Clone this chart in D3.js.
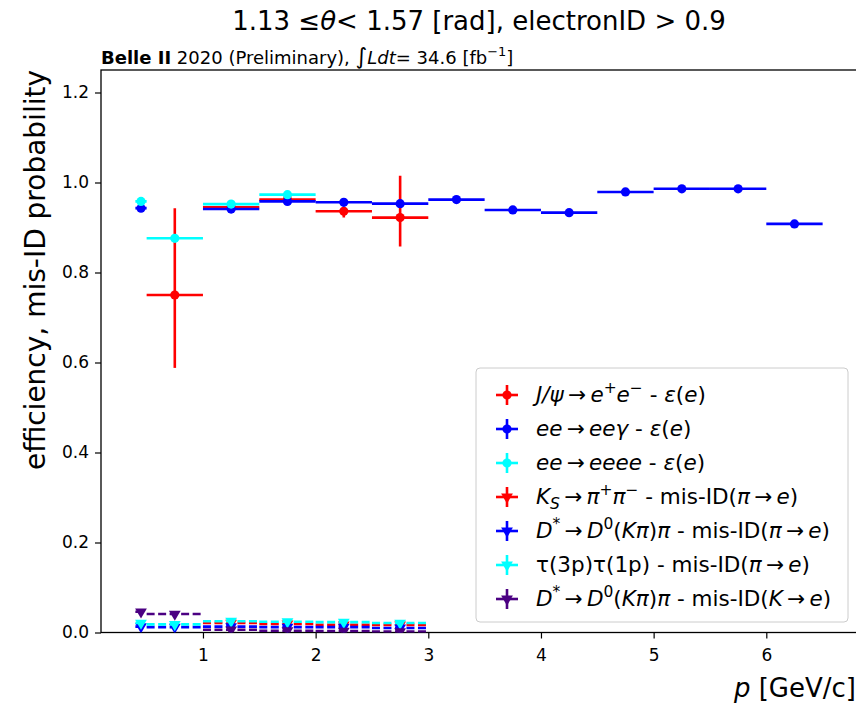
<!DOCTYPE html>
<html><head><meta charset="utf-8">
<script src="https://cdn.jsdelivr.net/npm/d3@7"></script>
<style>body{margin:0;background:#fff}svg text{font-family:"DejaVu Sans",sans-serif}</style>
</head><body>
<svg id="c" width="856" height="706"></svg>
<script>
// ---------------- data ----------------
const jpsiX    = [0.75, 1.25, 1.75, 2.25, 2.75];
const jpsiXerr = [0.25, 0.25, 0.25, 0.25, 0.25];
const jpsiY    = [0.750, 0.945, 0.962, 0.936, 0.922];
const jpsiLo   = [0.162, 0.010, 0.007, 0.014, 0.064];
const jpsiHi   = [0.193, 0.009, 0.007, 0.010, 0.093];

const eegX    = [0.45, 1.25, 1.75, 2.25, 2.75, 3.25, 3.75, 4.25, 4.75, 5.25, 5.75, 6.25];
const eegXerr = [0.05, 0.25, 0.25, 0.25, 0.25, 0.25, 0.25, 0.25, 0.25, 0.25, 0.25, 0.25];
const eegY    = [0.943, 0.941, 0.958, 0.956, 0.953, 0.962, 0.939, 0.933, 0.979, 0.986, 0.986, 0.908];
const eegErr  = [0.004, 0.003, 0.002, 0.002, 0.002, 0.002, 0.002, 0.002, 0.002, 0.002, 0.002, 0.003];

const eeeeX    = [0.45, 0.75, 1.25, 1.75];
const eeeeXerr = [0.05, 0.25, 0.25, 0.25];
const eeeeY    = [0.958, 0.876, 0.952, 0.973];
const eeeeErr  = [0.005, 0.006, 0.004, 0.004];

const ksX    = [1.25, 1.75, 2.25, 2.75];
const ksXerr = [0.25, 0.25, 0.25, 0.25];
const ksY    = [0.021, 0.019, 0.017, 0.017];
const ksErr  = [0.002, 0.002, 0.002, 0.003];

const dpiX    = [0.45, 0.75, 1.25, 1.75, 2.25, 2.75];
const dpiXerr = [0.05, 0.25, 0.25, 0.25, 0.25, 0.25];
const dpiY    = [0.013, 0.012, 0.013, 0.012, 0.012, 0.010];
const dpiErr  = [0.002, 0.002, 0.001, 0.001, 0.001, 0.001];

const tauX    = [0.45, 0.75, 1.25, 1.75, 2.25, 2.75];
const tauXerr = [0.05, 0.25, 0.25, 0.25, 0.25, 0.25];
const tauY    = [0.021, 0.018, 0.025, 0.024, 0.023, 0.021];
const tauErr  = [0.003, 0.002, 0.002, 0.002, 0.002, 0.002];

const dkX    = [0.45, 0.75, 1.25, 1.75, 2.25, 2.75];
const dkXerr = [0.05, 0.25, 0.25, 0.25, 0.25, 0.25];
const dkY    = [0.046, 0.041, 0.006, 0.004, 0.003, 0.002];
const dkErr  = [0.003, 0.003, 0.001, 0.001, 0.001, 0.001];

const xTicks = [1, 2, 3, 4, 5, 6];
const yTicks = [0.0, 0.2, 0.4, 0.6, 0.8, 1.0, 1.2];

// legend labels: [text, style] with style n=normal, i=italic, sup=superscript, sub=subscript(italic)
const AR = "\u2009→\u2009";
const legendLabels = [
  [["J/ψ","i"],[AR,"n"],["e","i"],["+","sup"],["e","i"],["−","sup"],[" - ","n"],["ε","i"],["(","n"],["e","i"],[")","n"]],
  [["ee","i"],[AR,"n"],["eeγ","i"],[" - ","n"],["ε","i"],["(","n"],["e","i"],[")","n"]],
  [["ee","i"],[AR,"n"],["eeee","i"],[" - ","n"],["ε","i"],["(","n"],["e","i"],[")","n"]],
  [["K","i"],["S","sub"],[AR,"n"],["π","i"],["+","sup"],["π","i"],["−","sup"],[" - mis-ID(","n"],["π","i"],[AR,"n"],["e","i"],[")","n"]],
  [["D","i"],["*","sup"],[AR,"n"],["D","i"],["0","sup"],["(","n"],["Kπ","i"],[")","n"],["π","i"],[" - mis-ID(","n"],["π","i"],[AR,"n"],["e","i"],[")","n"]],
  [["τ(3p)τ(1p) - mis-ID(","n"],["π","i"],[AR,"n"],["e","i"],[")","n"]],
  [["D","i"],["*","sup"],[AR,"n"],["D","i"],["0","sup"],["(","n"],["Kπ","i"],[")","n"],["π","i"],[" - mis-ID(","n"],["K","i"],[AR,"n"],["e","i"],[")","n"]]
];

const series = [
  {x: jpsiX, xe: jpsiXerr, y: jpsiY, lo: jpsiLo, hi: jpsiHi, color: "#ff0000", mk: "o", dash: false},
  {x: eegX,  xe: eegXerr,  y: eegY,  lo: eegErr, hi: eegErr, color: "#0000ff", mk: "o", dash: false},
  {x: eeeeX, xe: eeeeXerr, y: eeeeY, lo: eeeeErr, hi: eeeeErr, color: "#00ffff", mk: "o", dash: false},
  {x: ksX,   xe: ksXerr,   y: ksY,   lo: ksErr, hi: ksErr, color: "#ff0000", mk: "v", dash: true},
  {x: dpiX,  xe: dpiXerr,  y: dpiY,  lo: dpiErr, hi: dpiErr, color: "#0000ff", mk: "v", dash: true},
  {x: tauX,  xe: tauXerr,  y: tauY,  lo: tauErr, hi: tauErr, color: "#00ffff", mk: "v", dash: true},
  {x: dkX,   xe: dkXerr,   y: dkY,   lo: dkErr, hi: dkErr, color: "#4b0082", mk: "v", dash: true}
];

// ---------------- layout ----------------
const svg = d3.select("#c");
const L = 101, R = 857, T = 70, B = 632.5;
const x = d3.scaleLinear().domain([0.095, 6.805]).range([L, R]);
const y = d3.scaleLinear().domain([0, 1.25]).range([B, T]);

// axes
const gx = svg.append("g").attr("transform", `translate(0,${B})`)
  .call(d3.axisBottom(x).tickValues(xTicks).tickFormat(d3.format("d")).tickSizeOuter(0).tickSize(6).tickPadding(10));
const gy = svg.append("g").attr("transform", `translate(${L},0)`)
  .call(d3.axisLeft(y).tickValues(yTicks).tickFormat(d3.format(".1f")).tickSizeOuter(0).tickSize(6).tickPadding(6));
[gx, gy].forEach(g => {
  g.select(".domain").remove();
  g.selectAll("line").attr("stroke", "#000").attr("stroke-width", 1.2);
  g.selectAll("text").attr("font-size", 17).attr("fill", "#000").attr("font-family", "DejaVu Sans");
});

// frame
svg.append("rect").attr("x", L).attr("y", T).attr("width", R - L).attr("height", B - T)
  .attr("fill", "none").attr("stroke", "#000").attr("stroke-width", 1.3);

// clip
svg.append("clipPath").attr("id", "clip").append("rect")
  .attr("x", L).attr("y", T).attr("width", R - L).attr("height", B - T);
const plot = svg.append("g").attr("clip-path", "url(#clip)");

const tri = d3.symbol().type(d3.symbolTriangle).size(60);
series.forEach(s => {
  const g = plot.append("g");
  const idx = d3.range(s.x.length);
  const dash = s.dash ? "8,3.5" : null;
  g.selectAll("line.h").data(idx).join("line")
    .attr("x1", i => x(s.x[i] - s.xe[i])).attr("x2", i => x(s.x[i] + s.xe[i]))
    .attr("y1", i => y(s.y[i])).attr("y2", i => y(s.y[i]))
    .attr("stroke", s.color).attr("stroke-width", 2.6).attr("stroke-dasharray", dash);
  g.selectAll("line.v").data(idx).join("line")
    .attr("x1", i => x(s.x[i])).attr("x2", i => x(s.x[i]))
    .attr("y1", i => y(s.y[i] - s.lo[i])).attr("y2", i => y(s.y[i] + s.hi[i]))
    .attr("stroke", s.color).attr("stroke-width", 2.6).attr("stroke-dasharray", dash);
  if (s.mk === "o") {
    g.selectAll("circle").data(idx).join("circle")
      .attr("cx", i => x(s.x[i])).attr("cy", i => y(s.y[i])).attr("r", 4.6).attr("fill", s.color);
  } else {
    g.selectAll("path").data(idx).join("path")
      .attr("d", tri).attr("transform", i => `translate(${x(s.x[i])},${y(s.y[i])}) rotate(180)`)
      .attr("fill", s.color);
  }
});

// rich text helper
function rich(sel, segs) {
  let off = 0;
  const base = +sel.attr("font-size");
  segs.forEach(([t, st]) => {
    const ts = sel.append("tspan").text(t);
    let target = 0;
    if (st === "sup") { target = -0.42; ts.attr("font-size", (base * 0.72) + "px"); }
    else if (st === "sub") { target = 0.22; ts.attr("font-size", (base * 0.72) + "px").attr("font-style", "italic"); }
    else if (st === "i") ts.attr("font-style", "italic");
    else if (st === "b") ts.attr("font-weight", "bold");
    else if (st === "big") ts.attr("font-size", (base * 1.25) + "px");
    if (target !== off) {
      ts.attr("dy", ((target - off) * base) + "px");
      off = target;
    }
  });
}

// legend
const lg = svg.append("g");
lg.append("rect").attr("x", 476).attr("y", 368).attr("width", 372).attr("height", 254).attr("rx", 4)
  .attr("fill", "#fff").attr("fill-opacity", 0.8).attr("stroke", "#cccccc").attr("stroke-width", 1);
series.forEach((s, k) => {
  const cy = 395 + k * 34, cx = 507;
  lg.append("line").attr("x1", cx - 11).attr("x2", cx + 11).attr("y1", cy).attr("y2", cy)
    .attr("stroke", s.color).attr("stroke-width", 2.6);
  lg.append("line").attr("x1", cx).attr("x2", cx).attr("y1", cy - 10).attr("y2", cy + 10)
    .attr("stroke", s.color).attr("stroke-width", 2.6);
  if (s.mk === "o") lg.append("circle").attr("cx", cx).attr("cy", cy).attr("r", 4.6).attr("fill", s.color);
  else lg.append("path").attr("d", tri).attr("transform", `translate(${cx},${cy}) rotate(180)`).attr("fill", s.color);
  const t = lg.append("text").attr("x", 536).attr("y", cy + 7).attr("font-size", 21.5).attr("fill", "#000");
  rich(t, legendLabels[k]);
});

// title
const title = svg.append("text").attr("x", 479).attr("y", 30).attr("text-anchor", "middle")
  .attr("font-size", 26).attr("fill", "#000");
rich(title, [["1.13  ≤","n"],["θ","i"],["<  1.57 [rad], electronID > 0.9","n"]]);

// Belle II label
const bl = svg.append("text").attr("x", 101).attr("y", 64).attr("font-size", 18).attr("fill", "#000");
rich(bl, [["Belle II","b"],[" 2020 (Preliminary), ","n"],["∫","big"],["Ldt","i"],["=  34.6 [fb","n"],["−1","sup"],["]","n"]]);

// axis labels
const yl = svg.append("text").attr("transform", `translate(45,${T}) rotate(-90)`)
  .attr("text-anchor", "end").attr("font-size", 28).attr("fill", "#000");
yl.text("efficiency, mis-ID probability");
const xl = svg.append("text").attr("x", 856).attr("y", 697).attr("text-anchor", "end")
  .attr("font-size", 26).attr("fill", "#000");
rich(xl, [["p","i"],[" [GeV/c]","n"]]);
</script>
</body></html>
